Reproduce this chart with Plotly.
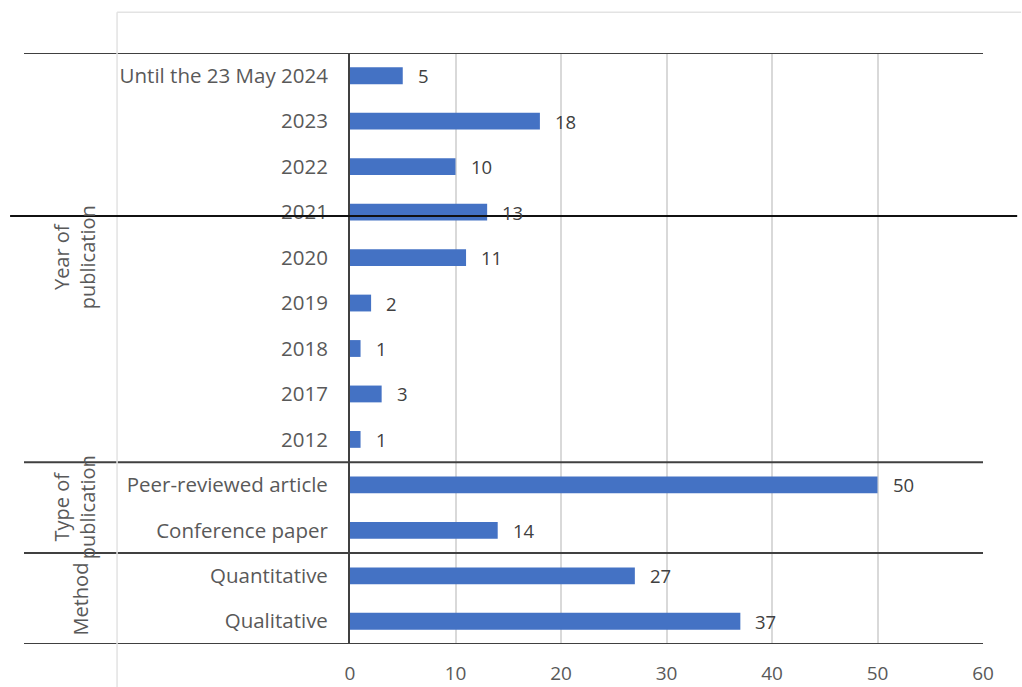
import plotly.graph_objects as go

categories = ["Until the 23 May 2024", "2023", "2022", "2021", "2020", "2019", "2018", "2017", "2012",
              "Peer-reviewed article", "Conference paper", "Quantitative", "Qualitative"]
values = [5, 18, 10, 13, 11, 2, 1, 3, 1, 50, 14, 27, 37]
groups = [("Year of<br>publication", 0, 8), ("Type of<br>publication", 9, 10), ("Method", 11, 12)]
x_ticks = [0, 10, 20, 30, 40, 50, 60]

FONT = "Open Sans"
n = len(categories)
fig = go.Figure(go.Bar(
    x=values, y=categories, orientation="h",
    marker=dict(color="#4472C4", line=dict(width=0)),
    hoverinfo="skip",
))

for i, v in enumerate(values):
    fig.add_annotation(x=v, y=i, text=str(v), showarrow=False, xanchor="left",
                       xshift=13, font=dict(family=FONT, size=18.5, color="#404040"))

# group separators
seps = [-0.5] + [g[2] + 0.5 for g in groups]
for s in seps:
    fig.add_shape(type="line", xref="paper", yref="y", x0=-0.515, x1=1.0, y0=s, y1=s,
                  line=dict(color="#404040", width=2))

for label, a, b in groups:
    xpos = -0.435 if "<br>" in label else -0.425
    fig.add_annotation(xref="paper", yref="y", x=xpos, y=(a + b) / 2, text=label,
                       textangle=-90, showarrow=False, xanchor="center", yanchor="middle",
                       font=dict(family=FONT, size=20, color="#595959"))

# faint outer frame
fig.add_shape(type="line", xref="paper", yref="paper", x0=-0.368, x1=-0.368, y0=1.069, y1=-0.08,
              line=dict(color="#e3e3e3", width=1.5))
fig.add_shape(type="line", xref="paper", yref="paper", x0=-0.368, x1=1.06, y0=1.069, y1=1.069,
              line=dict(color="#e3e3e3", width=1.5))
# stray line across
fig.add_shape(type="line", xref="paper", yref="paper", x0=-0.537, x1=1.054, y0=0.724, y1=0.724,
              line=dict(color="#111111", width=2))

fig.update_layout(
    width=1022, height=687,
    margin=dict(l=350, r=39, t=53, b=43, autoexpand=False),
    paper_bgcolor="white", plot_bgcolor="white",
    bargap=0.63, showlegend=False,
    font=dict(family=FONT, color="#595959"),
    xaxis=dict(range=[0, 60], tickvals=x_ticks, showgrid=True, gridcolor="#d9d9d9", gridwidth=1.5,
               zeroline=False, showline=False, tickfont=dict(size=19, color="#595959"),
               ticks="", ticklabelstandoff=16, automargin=False),
    yaxis=dict(type="category", categoryorder="array", categoryarray=categories,
               range=[n - 0.5, -0.5], autorange=False, showgrid=False, zeroline=False,
               showline=True, linecolor="#404040", linewidth=2, automargin=False,
               ticks="", tickfont=dict(size=20.5, color="#595959"), ticklabelstandoff=16),
)
fig.write_html("out.html")
